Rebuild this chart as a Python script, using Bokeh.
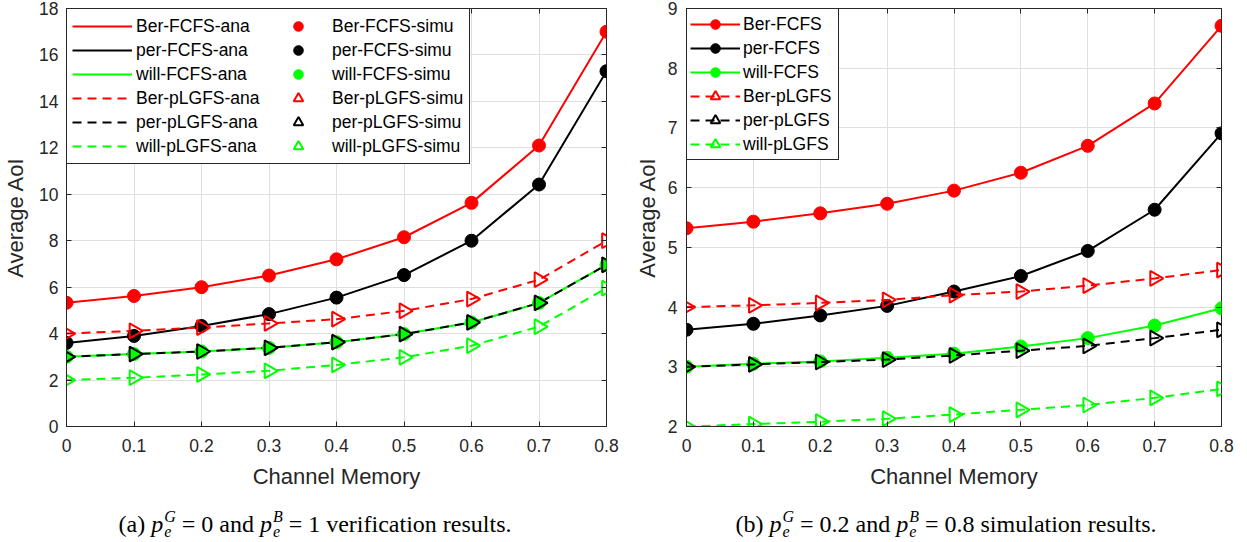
import math
from bokeh.plotting import figure
from bokeh.models import Legend, LegendItem, FixedTicker, Div, LinearAxis
from bokeh.layouts import column, row
from bokeh.embed import file_html
from bokeh.resources import INLINE

# ---------------- data ----------------
x_memory = [0, 0.1, 0.2, 0.3, 0.4, 0.5, 0.6, 0.7, 0.8]
x_tick_labels = ["0", "0.1", "0.2", "0.3", "0.4", "0.5", "0.6", "0.7", "0.8"]
a_y_ticks = [0, 2, 4, 6, 8, 10, 12, 14, 16, 18]
b_y_ticks = [2, 3, 4, 5, 6, 7, 8, 9]

# (a) p_e^G = 0, p_e^B = 1 (verification)
a_ber_fcfs = [5.33, 5.62, 6.0, 6.5, 7.2, 8.15, 9.63, 12.1, 17.0]
a_per_fcfs = [3.6, 3.9, 4.33, 4.84, 5.55, 6.52, 8.0, 10.42, 15.3]
a_will_fcfs = [3.0, 3.12, 3.23, 3.39, 3.63, 3.98, 4.48, 5.32, 6.96]
a_ber_plgfs = [4.0, 4.12, 4.26, 4.44, 4.62, 4.98, 5.49, 6.32, 8.0]
a_per_plgfs = [3.0, 3.12, 3.23, 3.39, 3.63, 3.98, 4.48, 5.32, 6.96]
a_will_plgfs = [2.0, 2.1, 2.24, 2.4, 2.65, 2.98, 3.48, 4.3, 5.96]

# (b) p_e^G = 0.2, p_e^B = 0.8 (simulation)
b_ber_fcfs = [5.32, 5.43, 5.57, 5.73, 5.95, 6.25, 6.70, 7.41, 8.71]
b_per_fcfs = [3.62, 3.72, 3.86, 4.02, 4.26, 4.52, 4.94, 5.63, 6.91]
b_will_fcfs = [3.0, 3.05, 3.09, 3.15, 3.22, 3.34, 3.48, 3.69, 3.98]
b_ber_plgfs = [4.0, 4.03, 4.07, 4.12, 4.2, 4.26, 4.36, 4.48, 4.62]
b_per_plgfs = [3.0, 3.04, 3.08, 3.12, 3.19, 3.27, 3.35, 3.48, 3.62]
b_will_plgfs = [2.0, 2.04, 2.08, 2.13, 2.2, 2.28, 2.36, 2.48, 2.63]

series_names = ["Ber-FCFS", "per-FCFS", "will-FCFS", "Ber-pLGFS", "per-pLGFS", "will-pLGFS"]
series_colors = ["#ff0000", "#000000", "#00ff00", "#ff0000", "#000000", "#00ff00"]
series_dash = ["solid", "solid", "solid", "9 6", "9 6", "9 6"]
series_marker = ["circle", "circle", "circle", "triangle", "triangle", "triangle"]

a_series = [a_ber_fcfs, a_per_fcfs, a_will_fcfs, a_ber_plgfs, a_per_plgfs, a_will_plgfs]
b_series = [b_ber_fcfs, b_per_fcfs, b_will_fcfs, b_ber_plgfs, b_per_plgfs, b_will_plgfs]

FONT = "Liberation Sans"
TXT = "#262626"
GRID = "#dfdfdf"
FIG_H = 492


def make_fig(width, yr, yticks, bl, br, ylab_standoff, ytick_standoff):
    p = figure(width=width, height=FIG_H, x_range=(0, 0.8), y_range=yr,
               output_backend="svg", toolbar_location=None,
               min_border_left=bl, min_border_right=br,
               min_border_top=8, min_border_bottom=66)
    p.xaxis.axis_label = "Channel Memory"
    p.yaxis.axis_label = "Average AoI"
    p.xaxis.ticker = FixedTicker(ticks=x_memory)
    p.xaxis.major_label_overrides = {t: l for t, l in zip(x_memory, x_tick_labels)}
    p.yaxis.ticker = FixedTicker(ticks=yticks)
    for ax in (p.xaxis[0], p.yaxis[0]):
        ax.major_label_text_font = FONT
        ax.major_label_text_font_size = "17.5px"
        ax.major_label_text_color = TXT
        ax.axis_label_text_font = FONT
        ax.axis_label_text_font_size = "22px"
        ax.axis_label_text_font_style = "normal"
        ax.axis_label_text_color = TXT
        ax.axis_line_color = TXT
        ax.major_tick_line_color = TXT
        ax.major_tick_in = 5
        ax.major_tick_out = 0
        ax.minor_tick_line_color = None
    p.xaxis.major_label_standoff = 12
    p.xaxis.axis_label_standoff = 9
    p.yaxis.major_label_standoff = ytick_standoff
    p.yaxis.axis_label_standoff = ylab_standoff
    # mirrored inward ticks on top and right (box on)
    top = LinearAxis(ticker=FixedTicker(ticks=x_memory),
                     major_label_overrides={t: "" for t in x_memory})
    right = LinearAxis(ticker=FixedTicker(ticks=yticks),
                       major_label_overrides={t: "" for t in yticks})
    for ax in (top, right):
        ax.axis_line_color = None
        ax.major_tick_line_color = TXT
        ax.major_tick_in = 5
        ax.major_tick_out = 0
        ax.minor_tick_line_color = None
        ax.major_label_standoff = 0
        ax.major_label_text_font_size = "1px"
    p.add_layout(top, "above")
    p.add_layout(right, "right")
    p.xgrid.grid_line_color = GRID
    p.ygrid.grid_line_color = GRID
    p.outline_line_color = TXT
    p.outline_line_alpha = 1
    p.background_fill_color = "white"
    return p


def marker_kwargs(i):
    if series_marker[i] == "circle":
        return dict(marker="circle", size=13, fill_color=series_colors[i],
                    line_color=series_colors[i], line_width=1)
    return dict(marker="triangle", size=15, angle=-math.pi / 2, fill_alpha=0,
                line_color=series_colors[i], line_width=2)


def style_legend(leg, pad, gw, lw, standoff):
    leg.location = "top_left"
    leg.margin = 0
    leg.padding = pad
    leg.spacing = 0
    leg.glyph_width = gw
    leg.glyph_height = 24
    leg.label_height = 24
    leg.label_width = lw
    leg.label_standoff = standoff
    leg.label_text_font = FONT
    leg.label_text_font_size = "17.5px"
    leg.label_text_color = "#000000"
    leg.border_line_color = TXT
    leg.border_line_alpha = 1
    leg.background_fill_alpha = 1


# ---------------- (a) ----------------
pa = make_fig(620, (0, 18), a_y_ticks, 65, 14, 8, 8)
lines_a, marks_a = [], []
for i, ys in enumerate(a_series):
    lines_a.append(pa.line(x_memory, ys, line_color=series_colors[i], line_width=2,
                           line_dash=series_dash[i]))
for i, ys in enumerate(a_series):
    marks_a.append(pa.scatter(x_memory, ys, **marker_kwargs(i)))

items_a = [LegendItem(label=n + "-ana", renderers=[r]) for n, r in zip(series_names, lines_a)]
items_a += [LegendItem(label=n + "-simu", renderers=[r]) for n, r in zip(series_names, marks_a)]
leg_a = Legend(items=items_a, ncols=2)
style_legend(leg_a, 5, 60, 132, 4)
pa.add_layout(leg_a)

# ---------------- (b) ----------------
pb = make_fig(622, (2, 9), b_y_ticks, 66, 21, 5, 9)
items_b = []
for i, ys in enumerate(b_series):
    ln = pb.line(x_memory, ys, line_color=series_colors[i], line_width=2, line_dash=series_dash[i])
    mk = pb.scatter(x_memory, ys, **marker_kwargs(i))
    items_b.append(LegendItem(label=series_names[i], renderers=[ln, mk]))
leg_b = Legend(items=items_b)
style_legend(leg_b, 3, 50, 92, 3)
pb.add_layout(leg_b)


# ---------------- captions ----------------
def supsub(sup):
    return ('<i>p</i><span style="display:inline-block;vertical-align:-0.3em;'
            'font-size:16px;line-height:15px;text-align:left;margin-left:1px;"><i>' + sup +
            '</i><br><i>e</i></span>')


EQ = '<span style="margin:0 6px;">=</span>'


def caption(width, html):
    return Div(width=width, height=542 - FIG_H - 2,
               text=('<div style="width:%dpx;text-align:center;font-family:\'Liberation Serif\';'
                     'font-size:24px;line-height:26px;color:#000;margin-top:12px;white-space:nowrap;">%s</div>'
                     % (width, html)))


cap_a = caption(620, "(a) " + supsub("G") + EQ + "0 and " + supsub("B") + EQ + "1 verification results.")
cap_b = caption(622, "(b) " + supsub("G") + EQ + "0.2 and " + supsub("B") + EQ + "0.8 simulation results.")

layout = column(row(pa, pb), row(cap_a, cap_b))
open("out.html", "w").write(file_html(layout, INLINE))
